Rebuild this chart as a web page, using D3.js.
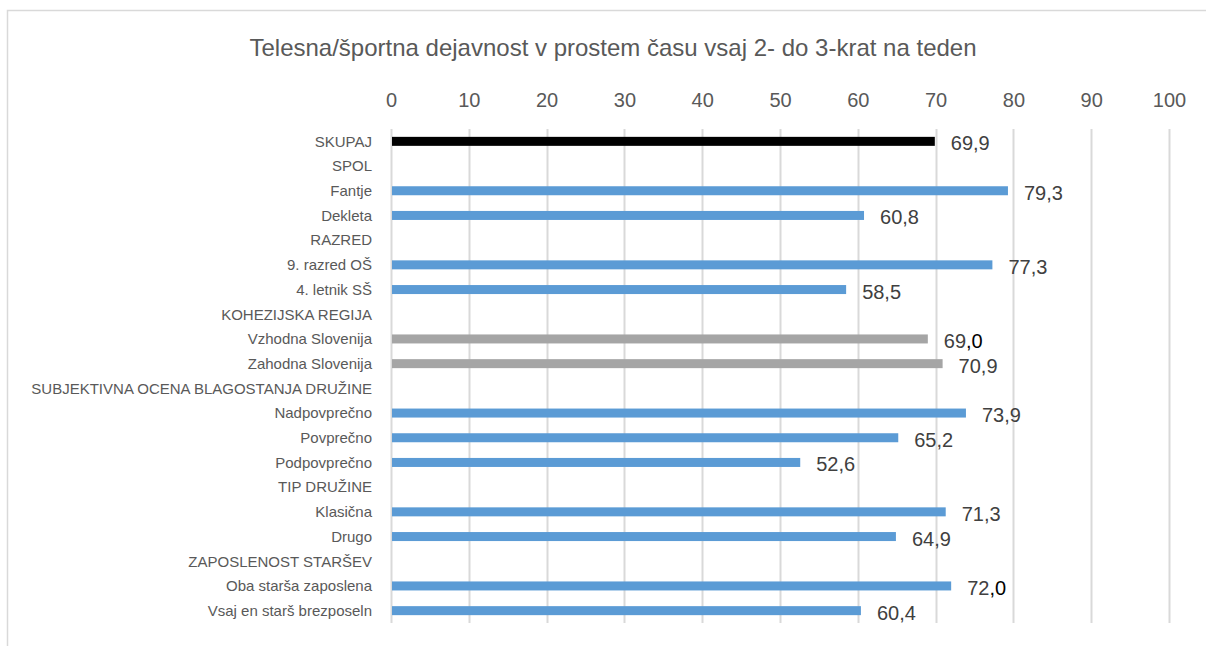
<!DOCTYPE html>
<html>
<head>
<meta charset="utf-8">
<script src="https://cdn.jsdelivr.net/npm/d3@7"></script>
<style>
  body { margin: 0; background: #fff; }
  svg { display: block; font-family: "Liberation Sans", Arial, sans-serif; }
</style>
</head>
<body>
<svg id="chart" width="1206" height="646"></svg>
<script>
/// data ///
const title = "Telesna/športna dejavnost v prostem času vsaj 2- do 3-krat na teden";

const categories = [
  "SKUPAJ", "SPOL", "Fantje", "Dekleta", "RAZRED", "9. razred OŠ", "4. letnik SŠ",
  "KOHEZIJSKA REGIJA", "Vzhodna Slovenija", "Zahodna Slovenija",
  "SUBJEKTIVNA OCENA BLAGOSTANJA DRUŽINE", "Nadpovprečno", "Povprečno", "Podpovprečno",
  "TIP DRUŽINE", "Klasična", "Drugo", "ZAPOSLENOST STARŠEV",
  "Oba starša zaposlena", "Vsaj en starš brezposeln"
];
// null = group heading row (no bar)
const values = [
  69.9, null, 79.3, 60.8, null, 77.3, 58.5, null, 69.0, 70.9,
  null, 73.9, 65.2, 52.6, null, 71.3, 64.9, null, 72.0, 60.4
];
// which colour each row gets
const kinds = [
  "total", null, "blue", "blue", null, "blue", "blue", null, "grey", "grey",
  null, "blue", "blue", "blue", null, "blue", "blue", null, "blue", "blue"
];
const ticks = [0, 10, 20, 30, 40, 50, 60, 70, 80, 90, 100];

/// constants ///
const colours = { total: "#000000", blue: "#5b9bd5", grey: "#a5a5a5" };
const textColour = "#595959";
const labelColour = "#404040";
const gridColour = "#d9d9d9";
const plot = { left: 391, right: 1169, top: 129, bottom: 623 };
const barHeight = 9;

const rows = categories.map((c, i) => ({ cat: c, value: values[i], kind: kinds[i] }));

const svg = d3.select("#chart");

// chart frame (runs off the right and bottom edge)
svg.append("path")
  .attr("d", "M7.5,660 L7.5,10.5 L1220,10.5")
  .attr("fill", "none")
  .attr("stroke", gridColour)
  .attr("stroke-width", 1.5);

/// scales ///
const x = d3.scaleLinear().domain([0, 100]).range([plot.left, plot.right]);
const y = d3.scaleBand().domain(categories).range([plot.top, plot.bottom]);

// title
svg.append("text")
  .attr("x", 613)
  .attr("y", 56)
  .attr("text-anchor", "middle")
  .attr("font-size", 24)
  .attr("fill", textColour)
  .text(title);

// gridlines
svg.append("g")
  .selectAll("line")
  .data(ticks)
  .join("line")
    .attr("x1", d => Math.round(x(d)) + 0.5)
    .attr("x2", d => Math.round(x(d)) + 0.5)
    .attr("y1", plot.top)
    .attr("y2", plot.bottom)
    .attr("stroke", gridColour)
    .attr("stroke-width", 2);

// top axis
const xAxis = g => g
  .attr("transform", `translate(0, ${plot.top - 22})`)
  .call(d3.axisTop(x).tickValues(ticks).tickSize(0).tickPadding(0))
  .call(g => g.select(".domain").remove())
  .call(g => g.selectAll("text")
    .attr("fill", textColour)
    .attr("font-size", 20)
    .attr("font-family", "Liberation Sans, Arial, sans-serif"));
svg.append("g").call(xAxis);

// category labels
const yAxis = g => g
  .attr("transform", `translate(${plot.left - 19}, 0)`)
  .call(d3.axisLeft(y).tickSize(0).tickPadding(0))
  .call(g => g.select(".domain").remove())
  .call(g => g.selectAll("text")
    .attr("fill", textColour)
    .attr("font-size", 15)
    .attr("dy", "0.35em")
    .attr("font-family", "Liberation Sans, Arial, sans-serif"));
svg.append("g").call(yAxis);

// bars
const barRows = rows.filter(d => d.value !== null);
svg.append("g")
  .selectAll("rect")
  .data(barRows)
  .join("rect")
    .attr("x", x(0) + 1)
    .attr("y", d => y(d.cat) + y.bandwidth() / 2 - barHeight / 2)
    .attr("width", d => x(d.value) - x(0) - 1)
    .attr("height", barHeight)
    .attr("fill", d => colours[d.kind]);

// value labels
const fmt = v => d3.format(".1f")(v).replace(".", ",");
const labels = svg.append("g")
  .selectAll("text")
  .data(barRows)
  .join("text")
    .attr("x", d => x(d.value) + 16)
    .attr("y", d => y(d.cat) + y.bandwidth() / 2 + 2)
    .attr("dy", "0.35em")
    .attr("font-size", 20)
    .attr("fill", labelColour);

labels.each(function(d) {
  const s = fmt(d.value);
  const t = d3.select(this);
  if (s.endsWith(",0")) {
    // these two labels were typed over in the original: ",0" is darker
    t.append("tspan").text(s.slice(0, -2));
    t.append("tspan").attr("fill", "#000").text(",0");
  } else {
    t.text(s);
  }
});
</script>
</body>
</html>
